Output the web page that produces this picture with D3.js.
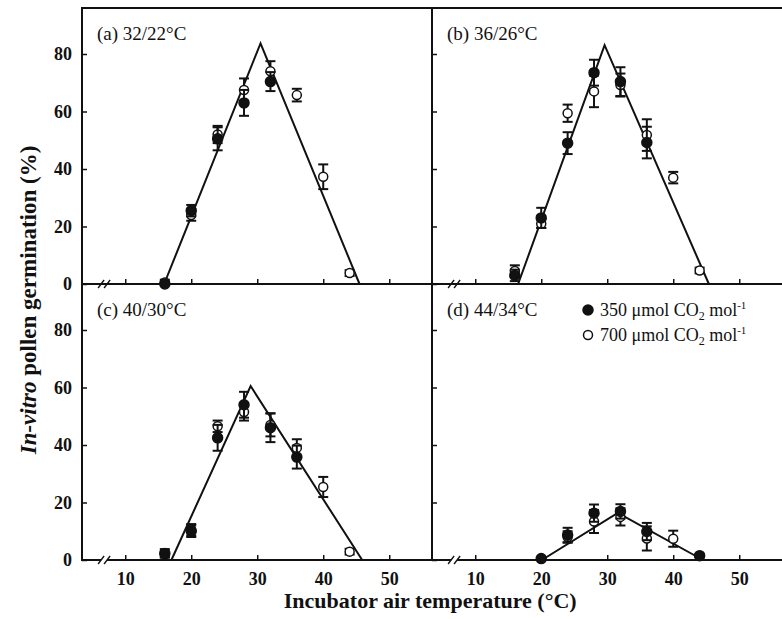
<!DOCTYPE html>
<html>
  <head>
    <meta charset="UTF-8">
    <style>
      body { margin: 0; background: #fff; }
      svg { display: block; }
      text { font-family: "Liberation Serif", "Times New Roman", serif; fill: #111; }
      .tick text { font-size: 18px; font-weight: bold; }
      .tick line { stroke: #111; stroke-width: 1.5; }
    </style>
    <script src="https://d3js.org/d3.v7.min.js"></script>
  </head>
  <body>
    <script>
      // incubator temperatures (°C)
      var temps = [16, 20, 24, 28, 32, 36, 40, 44];

      var panelLabels = ["(a) 32/22°C", "(b) 36/26°C", "(c) 40/30°C", "(d) 44/34°C"];
      var xTicks = [10, 20, 30, 40, 50];
      var yTicks = [0, 20, 40, 60, 80];

      // (a) 32/22°C
      var a350 = [0, 25.5, 50.5, 63, 70.4, null, null, null];
      var a350err = [1, 2, 4, 4.5, 3.3, null, null, null];
      var a700 = [0.5, 24, 52, 67.5, 74, 65.7, 37.3, 3.8];
      var a700err = [1, 2, 3, 4, 3.5, 2.2, 4.3, 1];
      var aFitT = [15.9, 30.5, 45.5];
      var aFitG = [0, 83.7, 0];

      // (b) 36/26°C
      var b350 = [3, 23, 49, 73.5, 70.4, 49.2, null, null];
      var b350err = [2, 3.5, 3.8, 4.5, 5, 5.5, null, null];
      var b700 = [4.5, 21, 59.4, 67, 69.2, 51.8, 37, 4.7];
      var b700err = [2, 1.5, 3, 5.5, 4, 5.5, 2, 1];
      var bFitT = [16.5, 29.6, 45.4];
      var bFitG = [0, 83.1, 0];

      // (c) 40/30°C
      var c350 = [2.3, 10, 42.5, 54, 46, 35.8, null, null];
      var c350err = [1.5, 2, 4.5, 4.5, 5, 4, null, null];
      var c700 = [2, 10.5, 46.5, 51.5, 47, 39, 25.4, 2.9];
      var c700err = [1, 2, 2, 3, 4, 3, 3.5, 1];
      var cFitT = [17.0, 29.0, 45.9];
      var cFitG = [0, 60.5, 0];

      // (d) 44/34°C
      var d350 = [null, 0.5, 8.7, 16.3, 16.9, 9.9, null, 1.5];
      var d350err = [null, 0.5, 2.5, 3, 2.5, 3, null, 0.5];
      var d700 = [null, null, 8, 13.4, 15, 7.5, 7.4, 1.5];
      var d700err = [null, null, 2, 4, 3, 4.2, 2.8, 0.5];
      var dFitT = [20.1, 31.6, 44.5];
      var dFitG = [0, 16.4, 0];

      var panels = [
        { label: panelLabels[0], s350: a350, e350: a350err, s700: a700, e700: a700err, fitT: aFitT, fitG: aFitG, col: 0, row: 0 },
        { label: panelLabels[1], s350: b350, e350: b350err, s700: b700, e700: b700err, fitT: bFitT, fitG: bFitG, col: 1, row: 0 },
        { label: panelLabels[2], s350: c350, e350: c350err, s700: c700, e700: c700err, fitT: cFitT, fitG: cFitG, col: 0, row: 1 },
        { label: panelLabels[3], s350: d350, e350: d350err, s700: d700, e700: d700err, fitT: dFitT, fitG: dFitG, col: 1, row: 1 }
      ];

      var width = 782, height = 619;
      var padLeft = 82, padTop = 8, W = 350, H = 276;

      var x = d3.scaleLinear().domain([3.45, 3.45 + W / 6.6]).range([0, W]);
      var y = d3.scaleLinear().domain([0, 96]).range([H, 0]);

      var svg = d3.select("body").append("svg")
        .attr("width", width)
        .attr("height", height);

      panels.forEach(function(p) {
        var g = svg.append("g")
          .attr("transform", "translate(" + (padLeft + p.col * W) + "," + (padTop + p.row * H) + ")");

        // y axis, inward ticks
        var ya = d3.axisLeft(y).tickValues(yTicks).tickSizeInner(-5).tickSizeOuter(0).tickPadding(10);
        if (p.col == 1) ya.tickFormat("");
        g.append("g").call(ya).call(function(s) { s.select(".domain").remove(); });

        // x axis at the bottom, inward ticks
        var xa = d3.axisBottom(x).tickValues(xTicks).tickSizeInner(-5).tickSizeOuter(0).tickPadding(12);
        if (p.row == 0) xa.tickFormat("");
        g.append("g").attr("transform", "translate(0," + H + ")").call(xa)
          .call(function(s) { s.select(".domain").remove(); });

        // frame
        g.append("rect")
          .attr("width", W + (p.col == 1 ? 10 : 0))
          .attr("height", H)
          .attr("fill", "none")
          .attr("stroke", "#111")
          .attr("stroke-width", 2);

        // axis break "//"
        var bx = x(6.8);
        g.append("rect").attr("x", bx - 3).attr("y", H - 3).attr("width", 6).attr("height", 6).attr("fill", "#fff");
        [-3, 3].forEach(function(o) {
          g.append("line")
            .attr("x1", bx + o - 3).attr("y1", H + 4)
            .attr("x2", bx + o + 3).attr("y2", H - 4)
            .attr("stroke", "#111").attr("stroke-width", 1.3);
        });

        // fitted line
        var line = d3.line().x(function(d) { return x(d[0]); }).y(function(d) { return y(d[1]); });
        g.append("path")
          .datum(d3.zip(p.fitT, p.fitG))
          .attr("d", line)
          .attr("fill", "none")
          .attr("stroke", "#111")
          .attr("stroke-width", 2);

        function series(vals, errs, filled) {
          var data = temps.map(function(t, i) { return { t: t, v: vals[i], e: errs[i] }; })
            .filter(function(d) { return d.v != null; });

          var eb = g.append("g").attr("stroke", "#111").attr("stroke-width", 2);
          data.filter(function(d) { return d.e; }).forEach(function(d) {
            var cx = x(d.t), y1 = y(d.v + d.e), y2 = y(Math.max(0, d.v - d.e));
            eb.append("line").attr("x1", cx).attr("x2", cx).attr("y1", y1).attr("y2", y2);
            eb.append("line").attr("x1", cx - 5).attr("x2", cx + 5).attr("y1", y1).attr("y2", y1);
            eb.append("line").attr("x1", cx - 5).attr("x2", cx + 5).attr("y1", y2).attr("y2", y2);
          });

          g.append("g").selectAll("circle")
            .data(data)
            .enter().append("circle")
            .attr("cx", function(d) { return x(d.t); })
            .attr("cy", function(d) { return y(d.v); })
            .attr("r", filled ? 5 : 4.5)
            .attr("fill", filled ? "#111" : "#fff")
            .attr("stroke", "#111")
            .attr("stroke-width", 1.5);
        }
        series(p.s700, p.e700, false);
        series(p.s350, p.e350, true);

        g.append("text")
          .attr("x", 15)
          .attr("y", 32)
          .style("font-size", "19px")
          .text(p.label);
      });

      // legend inside panel (d)
      var leg = svg.append("g").attr("transform", "translate(" + (padLeft + W) + "," + (padTop + H) + ")");
      var legItems = [{ n: "350", filled: true }, { n: "700", filled: false }];
      legItems.forEach(function(d, i) {
        var ly = 26 + i * 25;
        leg.append("circle")
          .attr("cx", 156).attr("cy", ly)
          .attr("r", d.filled ? 5 : 4.5)
          .attr("fill", d.filled ? "#111" : "#fff")
          .attr("stroke", "#111").attr("stroke-width", 1.5);
        var t = leg.append("text")
          .attr("x", 168).attr("y", ly + 6)
          .style("font-size", "18px");
        t.append("tspan").text(d.n + " μmol CO");
        t.append("tspan").attr("dy", 4).style("font-size", "12px").text("2");
        t.append("tspan").attr("dy", -4).text(" mol");
        t.append("tspan").attr("dy", -7).style("font-size", "11px").text("-1");
      });

      // axis titles
      svg.append("text")
        .attr("transform", "translate(36,300) rotate(-90)")
        .attr("text-anchor", "middle")
        .style("font-size", "23px")
        .style("font-weight", "bold")
        .call(function(t) {
          t.append("tspan").style("font-style", "italic").text("In-vitro");
          t.append("tspan").text(" pollen germination (%)");
        });

      svg.append("text")
        .attr("x", padLeft + W * 0.995)
        .attr("y", 608)
        .attr("text-anchor", "middle")
        .style("font-size", "22px")
        .style("font-weight", "bold")
        .text("Incubator air temperature (°C)");
    </script>
  </body>
</html>
